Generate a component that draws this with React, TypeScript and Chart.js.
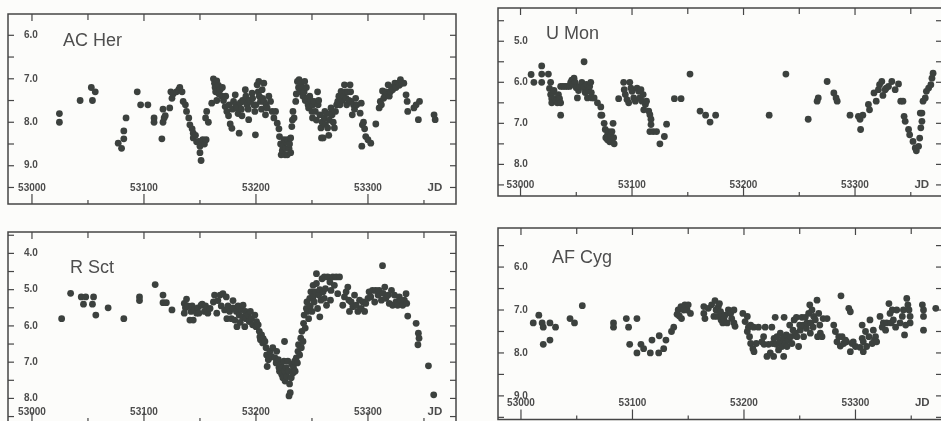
import React, { useEffect, useRef } from "react";
import { Chart, registerables } from "chart.js";

Chart.register(...registerables);

type Pt = [number, number];

// ---------- data (JD, visual magnitude) ----------
const AC_HER: Pt[] = [
  [53024.5, 7.8], [53024.5, 8.0], [53043, 7.5], [53053, 7.2], [53054, 7.5], [53056.5, 7.3],
  [53077, 8.48], [53080, 8.6], [53082, 8.38], [53082, 8.2], [53084, 7.9],
  [53094, 7.3], [53097, 7.6], [53103.5, 7.6], [53109, 7.9], [53109, 8.0],
  [53116, 8.38], [53117, 8.0], [53117, 7.7], [53118, 7.9], [53119, 7.85],
  [53123, 7.67], [53124, 7.3], [53125, 7.45], [53126, 7.35], [53129, 7.3], [53131, 7.25], [53132, 7.2], [53134, 7.3], [53135, 7.52],
  [53137, 7.6], [53138, 7.75], [53140, 7.9], [53141, 8.06], [53143, 8.15], [53144, 8.25], [53144, 8.36], [53146, 8.3], [53147, 8.45],
  [53149, 8.44], [53150, 8.55], [53151, 8.88], [53150, 8.7], [53152.5, 8.4], [53154, 8.5], [53155.5, 8.4], [53155, 7.9], [53156, 7.75], [53157.5, 8.0],
  [53160.5, 7.56], [53162, 7.0], [53163, 7.1], [53163.5, 7.2], [53164, 7.3], [53165, 7.05], [53165, 7.5], [53166.5, 7.15], [53167, 7.35],
  [53168, 7.25], [53169.5, 7.4], [53170, 7.2], [53171, 7.5], [53172.5, 7.64], [53173, 7.4], [53174, 7.75], [53175.5, 7.85], [53176, 7.6],
  [53177, 8.04], [53178.5, 8.14], [53179, 7.7], [53180, 7.52], [53181.5, 7.37], [53182, 7.6], [53183, 7.67], [53184, 7.8], [53185, 8.25],
  [53186, 7.55], [53187, 7.7], [53187.5, 7.85], [53188, 7.5], [53189, 7.52], [53190.5, 7.25], [53191, 7.4], [53192, 7.6], [53193, 7.7],
  [53193.5, 7.94], [53194, 7.5], [53195, 7.52], [53196.5, 7.33], [53197, 7.45], [53198, 7.6], [53199, 7.75], [53199.5, 8.29], [53200, 7.6],
  [53201, 7.14], [53202, 7.3], [53202.5, 7.06], [53203, 7.4], [53204, 7.52], [53205, 7.7], [53205.5, 7.25], [53206, 7.45], [53207, 7.1],
  [53207, 7.52], [53208.5, 7.83], [53209, 7.6], [53210, 7.67], [53211.5, 7.4], [53213, 7.52], [53214.5, 7.75],
  [53216, 7.9], [53217.5, 7.75], [53219, 8.02], [53220.5, 8.15], [53221, 8.33], [53222, 8.5], [53222.5, 8.75], [53223.5, 8.65], [53224, 8.55],
  [53225, 8.4], [53226, 8.75], [53226.5, 8.6], [53227, 8.45], [53228, 8.4], [53228, 8.75], [53229.5, 8.6], [53230, 8.5], [53231, 8.36],
  [53231, 8.7], [53232, 8.1], [53232.5, 7.95], [53233, 7.75], [53234, 7.9],
  [53235.5, 7.52], [53236, 7.35], [53237, 7.06], [53238, 7.2], [53238.5, 7.02], [53239, 7.3], [53240, 7.1], [53241, 7.2], [53242, 7.4],
  [53243, 7.3], [53243.5, 7.06], [53244, 7.5], [53245, 7.2], [53246, 7.44], [53246.5, 7.6], [53247, 7.67], [53248, 7.4], [53249, 7.5],
  [53250, 7.75], [53250.5, 7.9], [53251, 7.6], [53252, 7.52], [53253, 7.75], [53254, 7.95], [53255, 7.3], [53255.5, 7.6], [53256, 7.5],
  [53257, 7.83], [53258, 8.13], [53258.5, 8.36], [53259, 8.0], [53260, 8.36], [53261, 7.9], [53261.5, 7.75], [53262, 8.05], [53263, 7.8],
  [53264, 8.13], [53265, 8.3], [53265.5, 7.95], [53266, 7.8], [53267, 7.67], [53268, 7.83], [53269, 8.0], [53270, 8.13],
  [53271, 7.75], [53272, 7.6], [53273, 7.52], [53274, 7.4], [53275, 7.6], [53276, 7.29], [53277, 7.5], [53278, 7.4], [53279, 7.14],
  [53280, 7.3], [53280.5, 7.45], [53281, 7.6], [53282, 7.3], [53283, 7.5], [53284, 7.14], [53284.5, 7.3], [53285, 7.52], [53286, 7.83],
  [53287, 7.6], [53288, 7.7], [53289, 7.45], [53290, 7.6],
  [53293, 7.79], [53294, 7.56], [53294.5, 8.55], [53295, 8.06], [53296, 8.0], [53297, 8.15], [53298, 8.33], [53300, 8.4], [53302.5, 8.48], [53307, 8.04],
  [53310, 7.67], [53311, 7.52], [53312, 7.6], [53313, 7.28], [53314, 7.45], [53315, 7.4], [53316, 7.3], [53318, 7.14], [53319, 7.4],
  [53320, 7.3], [53321, 7.2], [53322, 7.25], [53324, 7.1], [53325, 7.2], [53327, 7.1], [53328, 7.15], [53329, 7.02], [53330, 7.1],
  [53332, 7.1], [53334, 7.37], [53335, 7.52], [53335.5, 7.75], [53341, 7.67], [53343, 7.6], [53345, 7.94], [53346, 7.52], [53359, 7.83], [53360, 7.94],
];

const U_MON: Pt[] = [
  [53009.5, 5.81], [53012, 6.0], [53019, 5.6], [53019, 5.8], [53019, 6.0], [53025, 5.8], [53027, 6.0],
  [53026, 6.15], [53027, 6.3], [53028, 6.4], [53028, 6.5], [53029, 6.25], [53030, 6.2], [53031, 6.4], [53032, 6.45], [53033, 6.5],
  [53034, 6.3], [53035, 6.4], [53036, 6.5], [53036, 6.8], [53036, 6.1],
  [53038, 6.1], [53040, 6.1], [53042, 6.1], [53044, 6.1], [53045, 6.0], [53046, 5.95], [53047, 6.05], [53048, 5.9], [53049, 6.0],
  [53050, 6.13], [53051, 6.38], [53052, 6.2], [53053, 6.1], [53055, 6.0], [53057, 5.5], [53057, 6.13], [53058, 6.25], [53059, 6.05],
  [53060, 6.38], [53061, 6.2], [53062, 6.1], [53063, 6.0], [53063.5, 6.25], [53064, 6.38],
  [53066, 6.38], [53069, 6.5], [53072, 6.6], [53072, 6.8], [53073, 6.8], [53075, 7.0], [53076, 7.15], [53076.5, 7.35], [53078, 7.28],
  [53078, 7.4], [53079, 7.2], [53080, 7.45], [53081, 7.3], [53082, 7.2], [53083, 7.0], [53083.5, 7.35], [53084, 7.5],
  [53088, 6.4],
  [53092.5, 6.0], [53093, 6.18], [53094, 6.3], [53095.5, 6.42], [53097, 6.5], [53098, 6.0], [53099, 6.14], [53100, 6.22], [53101.5, 6.38],
  [53103, 6.46], [53104.5, 6.14], [53106, 6.22], [53107, 6.38], [53108, 6.18], [53109, 6.46], [53110, 6.3], [53110.5, 6.67], [53112, 6.54],
  [53113, 6.46], [53115, 6.7], [53116, 6.79], [53117, 6.9], [53117, 7.03], [53116, 7.2], [53119, 7.2], [53122, 7.2], [53125, 7.5],
  [53129, 7.32], [53131, 7.02],
  [53138, 6.4], [53144, 6.4], [53152, 5.8], [53161, 6.7], [53166, 6.8], [53170, 6.97], [53175, 6.8],
  [53223, 6.8], [53238, 5.8], [53258, 6.9], [53266, 6.46], [53267, 6.38], [53275, 5.98], [53281, 6.26], [53283, 6.38], [53284, 6.46],
  [53295.5, 6.8], [53303, 6.83], [53304.5, 6.9], [53305, 7.15], [53307, 6.8], [53312, 6.54], [53313, 6.67], [53317, 6.26], [53319, 6.46],
  [53321, 6.18], [53322, 6.06], [53324, 5.98], [53325, 6.32], [53327, 6.18], [53328, 6.14], [53330, 6.1], [53333, 5.98], [53336, 6.18],
  [53339, 6.04], [53341, 6.46], [53343, 6.46], [53344, 6.83], [53345, 6.95], [53348, 7.15], [53349, 7.28], [53352, 7.44], [53354, 7.6],
  [53355, 7.67], [53357, 7.56], [53358, 7.36], [53359, 7.11], [53360, 6.95], [53360, 6.75], [53358.5, 6.75], [53361, 6.46], [53363, 6.38],
  [53364, 6.22], [53366, 6.14], [53368, 6.06], [53369, 5.9], [53370, 5.78],
];

const R_SCT: Pt[] = [
  [53026.5, 5.8], [53034.5, 5.1], [53044, 5.2], [53046, 5.4], [53048, 5.2], [53054, 5.4], [53055, 5.2], [53057, 5.7], [53068, 5.5],
  [53082, 5.8], [53096, 5.2], [53096, 5.3], [53110, 4.86], [53117, 5.15], [53117, 5.36], [53120, 5.36], [53125, 5.56],
  [53136, 5.38], [53136, 5.65], [53137, 5.5], [53138, 5.26], [53139, 5.45], [53141, 5.84], [53142, 5.6], [53143, 5.45], [53144, 5.84],
  [53145, 5.55], [53147, 5.65], [53148, 5.5], [53149, 5.65], [53151, 5.43], [53152, 5.4], [53154, 5.6], [53155, 5.45], [53157, 5.65],
  [53159, 5.52], [53162, 5.34], [53163, 5.15], [53165, 5.65], [53166, 5.3], [53168, 5.15], [53169, 5.45], [53170.5, 5.11], [53172, 5.56],
  [53173.5, 5.2], [53174, 5.8], [53175, 5.45], [53176.5, 5.6], [53178, 5.8], [53179.5, 5.3], [53179.5, 5.5], [53181, 5.84], [53182.5, 5.6],
  [53183, 6.02], [53184, 5.45], [53185, 5.7], [53186, 5.9], [53187, 5.55], [53188, 5.75], [53188.5, 5.43], [53190, 6.02], [53190.5, 5.6],
  [53191, 5.8], [53193, 5.7], [53194, 5.88], [53195, 5.6], [53196, 5.8], [53197, 5.97], [53199, 5.7], [53200, 6.02], [53200.5, 5.88],
  [53202, 5.97], [53203, 6.15], [53203.5, 6.3], [53204, 6.38], [53205, 6.25], [53206, 6.47], [53206.5, 6.35], [53208, 6.43], [53209, 6.6],
  [53209.5, 6.8], [53210, 7.12], [53211, 6.93], [53212, 6.88], [53212.5, 6.7], [53214, 6.84], [53215, 6.6], [53217, 6.88], [53218, 7.02],
  [53218.5, 6.7], [53220, 6.93], [53220.5, 7.15], [53221, 7.25], [53222, 7.06], [53223, 7.34], [53223.5, 7.15], [53224, 7.43], [53225, 6.97],
  [53225.5, 6.43], [53225.5, 7.25], [53226, 7.52], [53227, 7.15], [53227.5, 7.4], [53228.5, 6.97], [53229, 7.25], [53229.5, 7.93], [53230, 7.6],
  [53230.6, 7.84], [53231.5, 7.43], [53232, 7.06], [53233, 7.3], [53233.5, 7.15], [53234.5, 6.97], [53235, 7.25], [53236, 6.88], [53237, 7.02],
  [53237.5, 6.7], [53238, 6.52], [53239, 6.8], [53240, 6.34], [53240.5, 6.6], [53241, 6.15], [53242, 6.43], [53242.5, 5.93], [53243, 5.7],
  [53244, 6.06], [53245, 5.52], [53245.5, 5.34], [53246, 5.6], [53247, 5.8], [53248, 5.24], [53248.5, 5.45], [53249, 5.06], [53250, 5.6],
  [53251, 4.88], [53251, 5.2], [53252, 5.34], [53253, 5.06], [53254, 4.56], [53254, 4.83], [53255, 5.52], [53256, 5.15], [53257, 5.75],
  [53257, 5.0], [53258, 5.29], [53259, 4.7], [53260, 5.06], [53261, 4.65], [53261, 5.24], [53262, 4.97], [53263, 5.43], [53264, 4.65],
  [53266, 4.79], [53266.5, 5.29], [53267, 5.02], [53268.6, 4.65], [53270, 4.88], [53271.6, 4.65], [53273, 5.11], [53274.6, 4.65],
  [53277.5, 5.43], [53279, 5.2], [53280.5, 5.06], [53282, 4.93], [53283, 5.29], [53283.5, 5.6], [53285, 5.34], [53286.5, 5.47], [53288, 5.15],
  [53289.5, 5.43], [53291, 5.6], [53292.5, 5.29], [53294, 5.52], [53295.5, 5.34], [53297, 5.6], [53298, 5.38], [53300, 5.24], [53301, 5.06],
  [53302.5, 5.2], [53304, 5.02], [53306, 5.34], [53307, 5.02], [53309, 5.15], [53310, 5.02], [53312, 5.29], [53313, 4.34], [53313.5, 5.1],
  [53315, 4.93], [53316, 5.24], [53318, 5.15], [53319, 5.38], [53321, 5.02], [53322, 5.43], [53323.6, 5.15], [53325, 5.34], [53326.5, 5.43],
  [53328, 5.2], [53329.5, 5.3], [53331, 5.43], [53332.5, 5.29], [53334, 5.11], [53334.6, 5.38],
  [53335.5, 5.73], [53343, 5.93], [53345, 6.2], [53345.6, 6.34], [53344.6, 6.52], [53354, 7.1], [53358.7, 7.9],
];

const AF_CYG: Pt[] = [
  [53011, 7.3], [53016, 7.12], [53019, 7.3], [53020, 7.4], [53020, 7.8], [53026, 7.3], [53026, 7.7], [53031, 7.4], [53044, 7.2],
  [53048, 7.3], [53055, 6.9], [53083, 7.3], [53083, 7.4], [53094.5, 7.2], [53096.5, 7.4], [53097.5, 7.8], [53104, 7.2], [53104, 8.0],
  [53107.6, 7.8], [53110, 7.9], [53116, 8.0], [53117.5, 7.7], [53123.5, 8.0], [53124, 7.6], [53128, 7.9], [53130, 7.7], [53135, 7.5],
  [53137, 7.4], [53140, 7.1], [53141, 7.0], [53142, 7.14], [53143.5, 6.92], [53144, 7.2], [53146, 7.0], [53147, 6.88], [53149, 7.0],
  [53150, 6.88], [53152, 7.08],
  [53164, 6.92], [53164, 7.08], [53165, 7.2], [53168, 6.96], [53171, 6.88], [53174, 6.78], [53175, 7.0], [53173, 7.15], [53176, 7.15],
  [53177, 6.92], [53178, 6.85], [53179, 7.04], [53179.5, 7.23], [53180, 7.15], [53181, 7.3], [53182, 7.2], [53183, 7.12], [53185, 7.3],
  [53186, 7.0], [53188, 7.08], [53189, 7.2], [53191, 7.0], [53191, 7.3], [53192, 7.38],
  [53199, 7.08], [53201, 7.27], [53203, 7.15], [53203, 7.5], [53204, 7.4], [53205, 7.62], [53206, 7.35], [53206, 7.78], [53208, 7.9],
  [53208.7, 7.4], [53209, 7.97], [53211, 7.78], [53213, 7.4], [53216, 7.74], [53217.6, 7.62], [53218, 7.8], [53219, 7.4], [53220.6, 8.08],
  [53222, 7.8], [53223.6, 8.0], [53225, 7.4], [53226, 7.78], [53226.6, 8.08], [53227, 7.66], [53228, 7.17], [53229, 7.8], [53229.6, 7.62],
  [53231, 7.93], [53232, 7.74], [53232.6, 7.54], [53234, 7.85], [53235, 7.66], [53235.6, 8.08], [53236, 7.17], [53237, 7.78], [53238, 7.58],
  [53238.6, 7.85], [53240, 7.7], [53241, 7.35], [53242, 7.62], [53243, 7.78], [53244, 7.47], [53245, 7.23], [53246, 7.54], [53247, 7.17],
  [53247.5, 7.62], [53249, 7.85], [53250, 7.35], [53250.5, 7.47], [53252, 7.17], [53253, 7.35], [53253.5, 7.62], [53255, 7.17], [53256, 7.43],
  [53256.5, 7.3], [53258, 7.08], [53259, 6.88], [53259.5, 7.54], [53260, 7.3], [53261, 7.0], [53262, 7.4], [53262.5, 7.15], [53264, 7.23],
  [53265.5, 6.77], [53266, 7.62], [53267, 7.08], [53268, 7.35], [53268.5, 7.54], [53270, 7.62], [53271, 7.2],
  [53274.5, 7.2], [53280.5, 7.35], [53282, 7.5], [53283.4, 7.74], [53285, 7.62], [53286.4, 7.84], [53287, 6.67], [53288, 7.62], [53289.4, 7.78],
  [53291, 7.7], [53292, 7.74], [53294, 6.96], [53295.4, 7.04], [53295.4, 7.97], [53297, 7.78], [53298, 7.74], [53300, 7.85],
  [53304, 7.87], [53306, 7.35], [53306, 7.66], [53307, 7.97], [53307, 7.74], [53309, 7.5], [53310, 7.85], [53312, 7.62], [53313, 7.23],
  [53315, 7.78], [53316, 7.47], [53317, 7.7], [53318, 7.62], [53319, 7.74], [53322, 7.15], [53324, 7.4], [53325, 7.3], [53327, 7.47],
  [53328, 7.3], [53330, 6.85], [53331, 7.08], [53332, 7.3], [53333, 7.0], [53334, 7.23], [53336, 7.4], [53337, 7.0], [53340, 7.3],
  [53342, 7.15], [53343, 7.0], [53344, 7.58], [53345, 7.35], [53346, 6.73], [53347, 6.88], [53348, 7.0], [53349, 7.15], [53349, 7.3],
  [53360, 6.88], [53361, 7.0], [53361, 7.15], [53361, 7.47], [53372, 6.96],
];

// ---------- axis ticks & labels ----------
const X_TICKS = [53000, 53050, 53100, 53150, 53200, 53250, 53300, 53350];
const X_LABELS = [53000, 53100, 53200, 53300];
const JD_TICK = 53350;
const AC_HER_Y_TICKS = [6, 6.5, 7, 7.5, 8, 8.5, 9, 9.5];
const AC_HER_Y_LABELS = [6, 7, 8, 9];
const U_MON_Y_TICKS = [4.5, 5, 5.5, 6, 6.5, 7, 7.5, 8, 8.5];
const U_MON_Y_LABELS = [5, 6, 7, 8];
const R_SCT_Y_TICKS = [3.5, 4, 4.5, 5, 5.5, 6, 6.5, 7, 7.5, 8, 8.5];
const R_SCT_Y_LABELS = [4, 5, 6, 7, 8];
const AF_CYG_Y_TICKS = [5.5, 6, 6.5, 7, 7.5, 8, 8.5, 9, 9.5];
const AF_CYG_Y_LABELS = [6, 7, 8, 9];

const INK = "#464646";
const DOT = "#3c413e";
const FONT = '"Liberation Sans", Arial, Helvetica, sans-serif';

const framePlugin = {
  id: "lightCurveFrame",
  afterDraw(chart: any, _args: any, opts: any) {
    const { ctx, chartArea: a, scales } = chart;
    const xs = scales.x;
    const ys = scales.y;
    const line = (x1: number, y1: number, x2: number, y2: number) => {
      ctx.beginPath();
      ctx.moveTo(x1, y1);
      ctx.lineTo(x2, y2);
      ctx.stroke();
    };
    ctx.save();
    ctx.strokeStyle = INK;
    ctx.lineWidth = 1.5;
    ctx.strokeRect(a.left, a.top, a.right - a.left, a.bottom - a.top);
    ctx.lineWidth = 1.2;
    for (const v of opts.yTicks) {
      const y = ys.getPixelForValue(v);
      line(a.left, y, a.left + 6, y);
      line(a.right - 6, y, a.right, y);
    }
    ctx.fillStyle = "#4c4c4c";
    ctx.font = `bold 10px ${FONT}`;
    ctx.textAlign = "left";
    ctx.textBaseline = "middle";
    for (const v of opts.yLabels) {
      ctx.fillText(v.toFixed(1), a.left + 16, ys.getPixelForValue(v));
    }
    const ly = a.bottom - opts.xLabelDy;
    ctx.textAlign = "center";
    for (const v of X_LABELS) {
      ctx.fillText(String(v), xs.getPixelForValue(v), ly);
    }
    ctx.font = `bold 11.5px ${FONT}`;
    ctx.fillText("JD", xs.getPixelForValue(JD_TICK) + 11, ly);
    for (const v of X_TICKS) {
      const x = xs.getPixelForValue(v);
      const major = v % 100 === 0;
      line(x, a.top, x, a.top + (major ? 7 : 6));
      line(x, a.bottom, x, a.bottom - (major ? 10 : 4));
    }
    ctx.fillStyle = "#4e4e4e";
    ctx.font = `18px ${FONT}`;
    ctx.textAlign = "left";
    ctx.textBaseline = "alphabetic";
    ctx.fillText(opts.title, a.left + opts.titleDx, a.top + opts.titleDy);
    ctx.restore();
  },
};

type PanelCfg = {
  title: string;
  data: Pt[];
  left: number;
  top: number;
  width: number;
  height: number;
  pad: { left: number; top: number; right: number; bottom: number };
  xMin: number;
  xMax: number;
  yMin: number;
  yMax: number;
  yTicks: number[];
  yLabels: number[];
  xLabelDy: number;
  titleDx: number;
  titleDy: number;
};

const PANELS: PanelCfg[] = [
  {
    title: "AC Her", data: AC_HER, left: 0, top: 0, width: 470, height: 215,
    pad: { left: 8, top: 14, right: 14, bottom: 11 },
    xMin: 52978.6, xMax: 53378.6, yMin: 5.51, yMax: 9.88,
    yTicks: AC_HER_Y_TICKS, yLabels: AC_HER_Y_LABELS, xLabelDy: 16, titleDx: 55, titleDy: 32,
  },
  {
    title: "U Mon", data: U_MON, left: 470, top: 0, width: 480, height: 215,
    pad: { left: 28, top: 8, right: 8, bottom: 19 },
    xMin: 52979.8, xMax: 53378, yMin: 4.19, yMax: 8.77,
    yTicks: U_MON_Y_TICKS, yLabels: U_MON_Y_LABELS, xLabelDy: 11, titleDx: 48, titleDy: 31,
  },
  {
    title: "R Sct", data: R_SCT, left: 0, top: 215, width: 470, height: 215,
    pad: { left: 8, top: 17, right: 14, bottom: 8 },
    xMin: 52978.6, xMax: 53378.6, yMin: 3.41, yMax: 8.65,
    yTicks: R_SCT_Y_TICKS, yLabels: R_SCT_Y_LABELS, xLabelDy: 10, titleDx: 62, titleDy: 41,
  },
  {
    title: "AF Cyg", data: AF_CYG, left: 470, top: 215, width: 480, height: 215,
    pad: { left: 28, top: 13, right: 8, bottom: 10.5 },
    xMin: 52979.4, xMax: 53377.6, yMin: 5.09, yMax: 9.55,
    yTicks: AF_CYG_Y_TICKS, yLabels: AF_CYG_Y_LABELS, xLabelDy: 16.5, titleDx: 54, titleDy: 35,
  },
];

function Panel({ cfg }: { cfg: PanelCfg }) {
  const ref = useRef<HTMLCanvasElement | null>(null);
  useEffect(() => {
    if (!ref.current) return;
    const chart = new Chart(ref.current, {
      type: "scatter",
      data: {
        datasets: [
          {
            data: cfg.data.map(([x, y]) => ({ x, y })),
            backgroundColor: DOT,
            borderWidth: 0,
            pointRadius: 3.4,
            pointHoverRadius: 3.4,
          },
        ],
      },
      options: {
        responsive: false,
        animation: false,
        devicePixelRatio: 1,
        layout: { padding: cfg.pad },
        scales: {
          x: { type: "linear", min: cfg.xMin, max: cfg.xMax, display: false },
          y: { type: "linear", min: cfg.yMin, max: cfg.yMax, reverse: true, display: false },
        },
        plugins: {
          legend: { display: false },
          tooltip: { enabled: false },
          lightCurveFrame: {
            title: cfg.title,
            yTicks: cfg.yTicks,
            yLabels: cfg.yLabels,
            xLabelDy: cfg.xLabelDy,
            titleDx: cfg.titleDx,
            titleDy: cfg.titleDy,
          },
        } as any,
      },
      plugins: [framePlugin],
    });
    return () => chart.destroy();
  }, [cfg]);
  return (
    <canvas
      ref={ref}
      width={cfg.width}
      height={cfg.height}
      style={{ position: "absolute", left: cfg.left, top: cfg.top, width: cfg.width, height: cfg.height }}
    />
  );
}

export default function App() {
  return (
    <div
      style={{
        position: "fixed",
        left: 0,
        top: 0,
        width: 941,
        height: 421,
        overflow: "hidden",
        background: "#fcfcfa",
      }}
    >
      {PANELS.map((p) => (
        <Panel key={p.title} cfg={p} />
      ))}
    </div>
  );
}
